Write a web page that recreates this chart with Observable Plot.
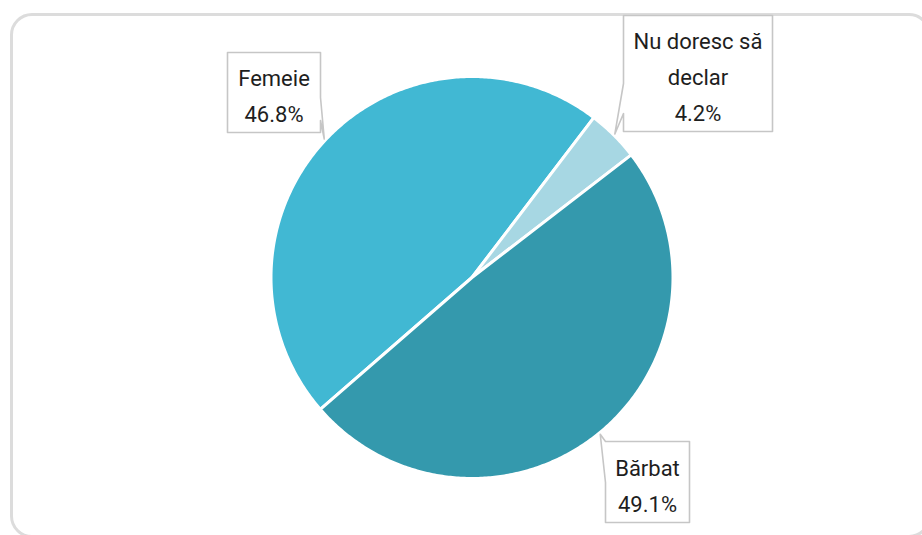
<!DOCTYPE html>
<html>
<head>
<meta charset="utf-8">
<script src="https://cdn.jsdelivr.net/npm/d3@7"></script>
<script src="https://cdn.jsdelivr.net/npm/@observablehq/plot@0.6"></script>
<style>
  html, body { margin: 0; padding: 0; background: #fff; overflow: hidden; }
  #wrap { position: relative; width: 922px; height: 535px; overflow: hidden; }
  #card { position: absolute; left: 10px; top: 13px; width: 921px; height: 525px;
          border: 3px solid #dcdcdc; border-radius: 22px; box-sizing: border-box; }
  #chart { position: absolute; left: 0; top: 0; }
</style>
</head>
<body>
<div id="wrap"><div id="card"></div><div id="chart"></div></div>
<script>
// ---- data ----
const categories = ["Femeie", "Nu doresc să declar", "Bărbat"];
const labelLines = ["Femeie", "Nu doresc să\ndeclar", "Bărbat"];
const values = [46.8, 4.2, 49.1];
const colors = ["#41b8d3", "#a7d7e3", "#3499ad"];

// ---- layout ----
const W = 922, H = 535;
const cx = 471.5, cy = 277, R = 201;
const startDeg = 229;
// callout boxes: [x1, y1, x2, y2], side of pointer, pointer base range
const boxLayout = [
  { box: [227, 52, 320, 132], side: "right", base: [97, 120] },
  { box: [623, 15, 772, 131], side: "left", base: [83, 113] },
  { box: [605, 441, 689, 522], side: "left", base: [441, 482] }
];

const data = categories.map((c, i) => ({ cat: c, value: values[i], label: labelLines[i] }));
const arcs = d3.pie().sort(null).value(d => d.value)
  .startAngle(startDeg * Math.PI / 180)
  .endAngle(startDeg * Math.PI / 180 + 2 * Math.PI)(data);

const px = (a, r) => cx + r * Math.sin(a);
const py = (a, r) => cy - r * Math.cos(a);

// slice polygons
const slicePts = [];
arcs.forEach(a => {
  slicePts.push({ cat: a.data.cat, x: cx, y: cy });
  const n = Math.max(2, Math.ceil((a.endAngle - a.startAngle) / 0.01));
  for (let k = 0; k <= n; k++) {
    const t = a.startAngle + (a.endAngle - a.startAngle) * k / n;
    slicePts.push({ cat: a.data.cat, x: px(t, R), y: py(t, R) });
  }
});

// callout polygons & label positions
const boxPts = [];
const labels = [];
arcs.forEach((a, i) => {
  const mid = (a.startAngle + a.endAngle) / 2;
  const tip = [px(mid, R + 1.5), py(mid, R + 1.5)];
  const L = boxLayout[i];
  const [x1, y1, x2, y2] = L.box;
  const [b0, b1] = L.base;
  let poly;
  if (L.side === "right") {
    poly = [[x1, y1], [x2, y1], [x2, b0], tip, [x2, b1], [x2, y2], [x1, y2]];
  } else {
    poly = [[x1, y1], [x2, y1], [x2, y2], [x1, y2], [x1, b1], tip, [x1, b0]];
  }
  poly.forEach(p => boxPts.push({ cat: a.data.cat, x: p[0], y: p[1] }));
  labels.push({
    cat: a.data.cat,
    x: (x1 + x2) / 2,
    y: (y1 + y2) / 2,
    text: a.data.label + "\n" + a.data.value.toFixed(1) + "%"
  });
});

const fontSize = 22;
const chart = Plot.plot({
  width: W,
  height: H,
  margin: 0,
  style: { background: "transparent" },
  x: { domain: [0, W], range: [0, W], axis: null },
  y: { domain: [0, H], range: [0, H], axis: null },
  color: { domain: categories, range: colors },
  marks: [
    Plot.line(slicePts, { x: "x", y: "y", z: "cat", fill: "cat", stroke: "white",
      strokeWidth: 3, strokeLinejoin: "round", curve: "linear-closed" }),
    Plot.line(boxPts, { x: "x", y: "y", z: "cat", fill: "white", stroke: "#c6c6c6",
      strokeWidth: 1.6, curve: "linear-closed" }),
    Plot.text(labels, { x: "x", y: "y", text: "text", fontSize: fontSize,
      lineHeight: 36 / fontSize, fill: "#1e1e1e", fontFamily: "Roboto, 'Open Sans', sans-serif",
      textAnchor: "middle" })
  ]
});
document.getElementById("chart").appendChild(chart);
</script>
</body>
</html>
